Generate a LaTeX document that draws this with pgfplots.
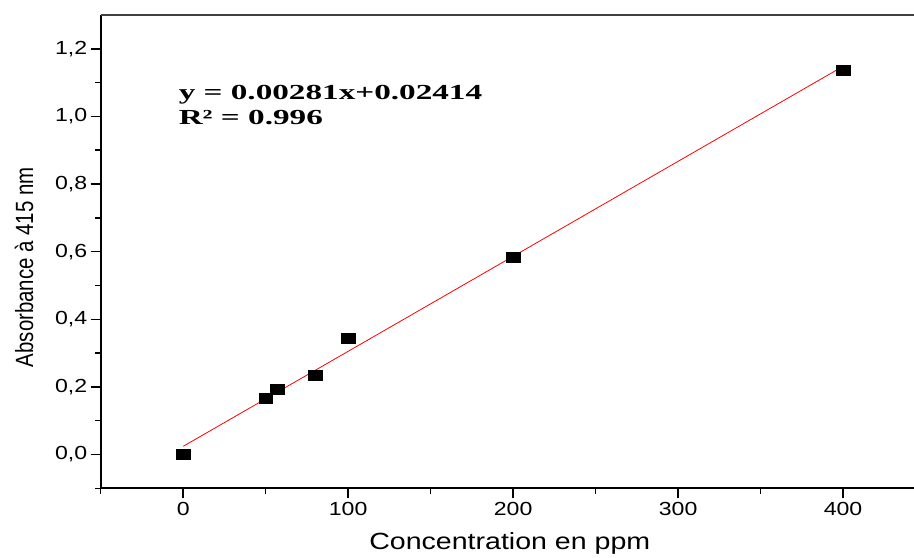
\documentclass[border=0pt]{standalone}
\usepackage{fontspec}
\setmainfont{Liberation Sans}
\newfontfamily\timesfont{Liberation Serif}
\usepackage{pgfplots}
\pgfplotsset{compat=1.18}
\begin{document}
\begin{tikzpicture}
\begin{axis}[
  scale only axis, width=813.3bp, height=473.3bp,
  xmin=-50, xmax=443, ymin=-0.1, ymax=1.3,
  axis lines*=left,
  axis line style={line width=1.8bp, black, -},
  xtick={0,100,200,300,400}, minor xtick={-50,50,150,250,350},
  ytick={0,0.2,0.4,0.6,0.8,1.0,1.2}, minor ytick={-0.1,0.1,0.3,0.5,0.7,0.9,1.1},
  tick align=outside, major tick length=10bp, minor tick length=5.5bp,
  every tick/.style={line width=1.5bp, black},
  every minor tick/.style={line width=1.5bp, black},
  /pgf/number format/assume math mode=true,
  ticklabel style={font=\fontsize{19}{19}\selectfont},
  xticklabel={\scalebox{1.22}[1]{\pgfmathprintnumber{\tick}}},
  yticklabel={\scalebox{1.22}[1]{\pgfmathprintnumber[fixed,fixed zerofill,precision=1,use comma]{\tick}}},
  xlabel={\scalebox{1.22}[1]{Concentration en ppm}},
  xlabel style={font=\fontsize{23.5}{23.5}\selectfont, at={(axis description cs:0.503,-0.130)}, anchor=base},
  ylabel={\scalebox{1}[1.22]{Absorbance à 415 nm}},
  ylabel style={font=\fontsize{20.5}{20.5}\selectfont, at={(axis description cs:-0.0832,0.467)}, anchor=base},
  clip=false,
]
\coordinate (NW) at (rel axis cs:0,1);
\coordinate (SE) at (rel axis cs:1,0);
\draw[black!75, line width=1.2bp] (rel axis cs:0,1) -- (rel axis cs:1,1);
\addplot[red, line width=0.8bp] coordinates {(0,0.02414) (400,1.14814)};
\addplot[only marks, mark=square*, mark size=5bp, mark options={xscale=1.37, black, fill=black}]
  coordinates {(0,0.0) (50,0.166) (57,0.193) (80,0.234) (100,0.344) (200,0.584) (400,1.136)};
\node[anchor=base west, inner sep=0pt, font=\timesfont\bfseries\fontsize{21.5}{21.5}\selectfont]
  at (axis cs:-2.8,1.050) {\scalebox{1.55}[1]{y = 0.00281x+0.02414}};
\node[anchor=base west, inner sep=0pt, font=\timesfont\bfseries\fontsize{21.5}{21.5}\selectfont]
  at (axis cs:-2.8,0.9755) {\scalebox{1.55}[1]{R² = 0.996}};
\end{axis}
\pgfresetboundingbox
\path[use as bounding box] ([xshift=-100.7bp,yshift=15bp]NW) rectangle ([yshift=-69.7bp]SE);
\end{tikzpicture}
\end{document}
